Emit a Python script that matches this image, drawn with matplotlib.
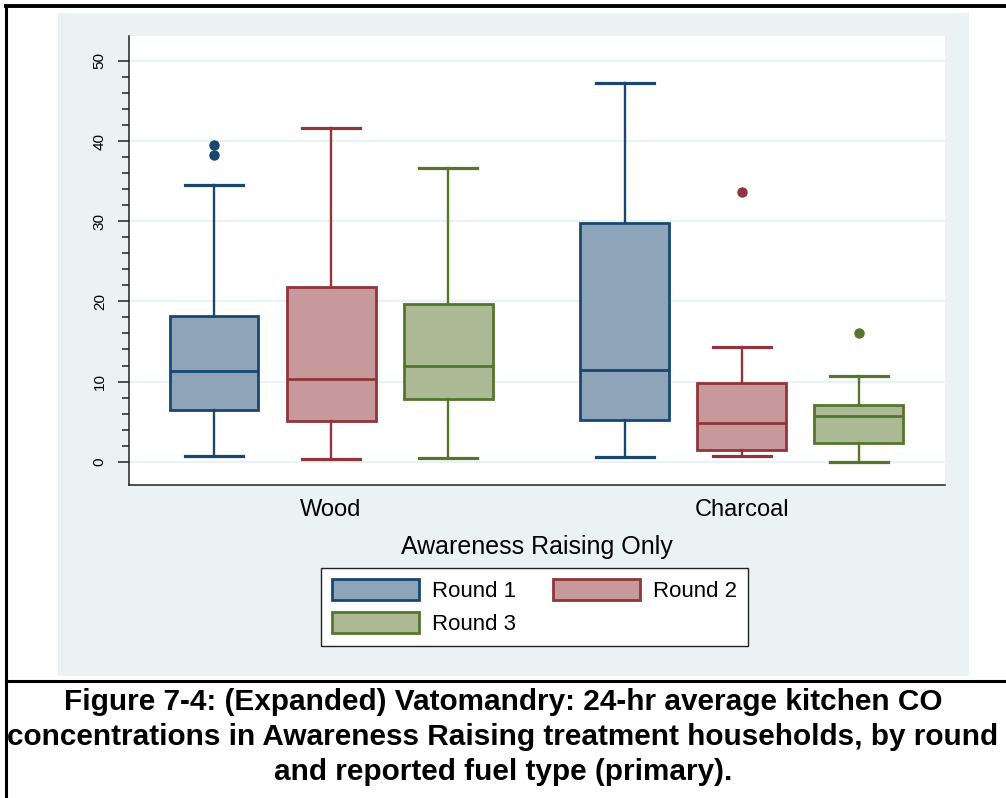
import matplotlib
matplotlib.use("Agg")
import matplotlib.pyplot as plt
from matplotlib.patches import Patch, Rectangle
from matplotlib.lines import Line2D

plt.rcParams['font.family'] = ['Liberation Sans', 'DejaVu Sans']

# box statistics (24-hr kitchen CO, ppm)
fuels = ['Wood', 'Charcoal']
rounds = ['Round 1', 'Round 2', 'Round 3']

wood_low = [0.75, 0.3, 0.5]
wood_q1 = [6.45, 5.07, 7.8]
wood_med = [11.35, 10.27, 12.0]
wood_q3 = [18.2, 21.75, 19.7]
wood_high = [34.5, 41.6, 36.6]
wood_fliers = [[39.45, 38.2], [], []]

charcoal_low = [0.6, 0.75, 0.0]
charcoal_q1 = [5.2, 1.5, 2.4]
charcoal_med = [11.4, 4.8, 5.7]
charcoal_q3 = [29.8, 9.8, 7.1]
charcoal_high = [47.2, 14.3, 10.7]
charcoal_fliers = [[], [33.7], [16.1]]

yticks = [0, 10, 20, 30, 40, 50]

edge_cols = ['#1A476F', '#90353B', '#55752F']
fill_cols = ['#8EA5B9', '#C8999C', '#ABBA94']
bg = '#EAF2F3'

fig = plt.figure(figsize=(10.06, 7.98), dpi=100)
W, H = 1006, 798

# stata style grey-blue panel
fig.patches.append(Rectangle((58 / W, 1 - 676 / H), (969 - 58) / W, (676 - 13) / H,
                             transform=fig.transFigure, facecolor=bg, edgecolor='none', zorder=-1))

ax = fig.add_axes([129 / W, 1 - 485 / H, (945 - 129) / W, (485 - 36) / H])
ax.set_facecolor('white')

groups = [
    (wood_low, wood_q1, wood_med, wood_q3, wood_high, wood_fliers),
    (charcoal_low, charcoal_q1, charcoal_med, charcoal_q3, charcoal_high, charcoal_fliers),
]
group_start = [1.0, 4.51]

for g, (lo, q1, med, q3, hi, fl) in enumerate(groups):
    for i in range(len(rounds)):
        stats = [dict(whislo=lo[i], q1=q1[i], med=med[i], q3=q3[i], whishi=hi[i], fliers=fl[i])]
        c = edge_cols[i]
        ax.bxp(stats, positions=[group_start[g] + i], widths=0.76, patch_artist=True,
               showfliers=True,
               boxprops=dict(facecolor=fill_cols[i], edgecolor=c, linewidth=2.0),
               medianprops=dict(color=c, linewidth=2.0),
               whiskerprops=dict(color=c, linewidth=1.7),
               capprops=dict(color=c, linewidth=2.3),
               capwidths=0.5,
               flierprops=dict(marker='o', markerfacecolor=c, markeredgecolor=c, markersize=6.5))

ax.set_xlim(0.274, 7.245)
ax.set_ylim(-2.9, 53.1)
ax.set_xticks([group_start[0] + 1, group_start[1] + 1])
ax.set_xticklabels(fuels, fontsize=17)
ax.tick_params(axis='x', length=0, pad=10)

ax.set_yticks(yticks)
ax.set_yticks([v for v in range(0, 51, 2) if v % 10], minor=True)
ax.set_yticklabels([str(v) for v in yticks], rotation=90, va='center', fontsize=11)
ax.tick_params(axis='y', which='major', length=8, width=1.2, color='#333333', pad=8)
ax.tick_params(axis='y', which='minor', length=5, width=1.2, color='#333333')
ax.grid(axis='y', color=bg, linewidth=1.6)
ax.set_axisbelow(True)
for s in ['top', 'right']:
    ax.spines[s].set_visible(False)
ax.spines['left'].set_color('#222222')
ax.spines['bottom'].set_color('#222222')
ax.spines['left'].set_linewidth(1.1)
ax.spines['bottom'].set_linewidth(1.1)

fig.text(537 / W, 1 - 547 / H, 'Awareness Raising Only', ha='center', va='center', fontsize=18)

# ncol=2 fills column-wise, so order handles to get Round 1 | Round 2 on the first row
order = [0, 2, 1]
handles = [Patch(facecolor=fill_cols[i], edgecolor=edge_cols[i], linewidth=2.0) for i in order]
leg = fig.legend(handles, [rounds[i] for i in order], loc='upper left',
                 bbox_to_anchor=(321 / W, 1 - 568 / H),
                 ncol=2, fontsize=16, frameon=True, fancybox=False, borderaxespad=0,
                 handlelength=3.9, handleheight=1.05, handletextpad=0.6, columnspacing=1.65,
                 labelspacing=0.45, borderpad=0.5, framealpha=1, facecolor='white')
leg.get_frame().set_edgecolor('#222222')
leg.get_frame().set_linewidth(1.0)

# document frame lines
fig.add_artist(Line2D([6 / W, 6 / W], [0, 1 - 6 / H], transform=fig.transFigure, color='black', lw=2.2))
fig.add_artist(Line2D([6 / W, 1], [1 - 6 / H, 1 - 6 / H], transform=fig.transFigure, color='black', lw=2.8))
fig.add_artist(Line2D([6 / W, 1], [1 - 681 / H, 1 - 681 / H], transform=fig.transFigure, color='black', lw=2.2))

caption = ['Figure 7-4: (Expanded) Vatomandry: 24-hr average kitchen CO',
           'concentrations in Awareness Raising treatment households, by round',
           'and reported fuel type (primary).']
for k, line in enumerate(caption):
    fig.text(503 / W, 1 - (702 + 35 * k) / H, line, ha='center', va='center',
             fontsize=21.4, fontweight='bold')

fig.savefig('out.png', dpi=100, facecolor='white')
